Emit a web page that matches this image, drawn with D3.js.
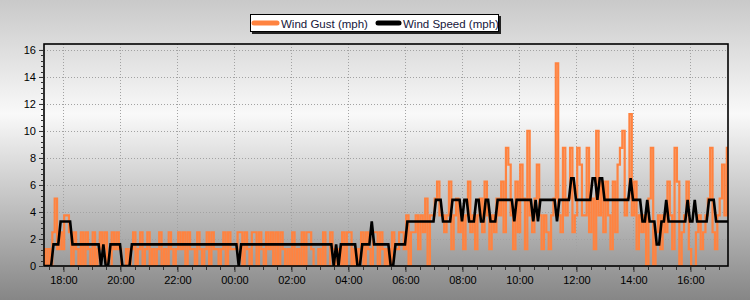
<!DOCTYPE html>
<html><head><meta charset="utf-8">
<script src="https://cdn.jsdelivr.net/npm/d3@7"></script>
<style>html,body{margin:0;padding:0;background:#fff;}svg{display:block;}</style>
</head><body><svg id="c" width="750" height="300"></svg>
<script>
// ---- data ----
const startTime = "2000-01-01T17:19:00";
const stepMinutes = 5;
const seriesNames = ["Wind Gust (mph)", "Wind Speed (mph)"];
const xTickLabels = ["18:00","20:00","22:00","00:00","02:00","04:00","06:00","08:00","10:00","12:00","14:00","16:00"];
const yTickLabels = [0,2,4,6,8,10,12,14,16];
const windGust = [
 1.25,0,1.25,0,2.5,5,1.25,2.5,1.25,3.75,3.75,2.5,
 0,2.5,1.25,0,2.5,0,2.5,1.25,0,2.5,0,1.25,
 2.5,1.25,2.5,0,0,2.5,1.25,2.5,1.25,0,0,1.25,
 0,1.25,2.5,0,1.25,2.5,0,1.25,2.5,0,1.25,0,
 1.25,2.5,0,1.25,0,2.5,1.25,0,1.25,2.5,1.25,2.5,
 0,2.5,1.25,1.25,0,2.5,1.25,0,1.25,2.5,0,2.5,
 1.25,1.25,0,1.25,2.5,0,2.5,1.25,1.25,1.25,2.5,2.5,
 0,2.5,1.25,0,2.5,2.5,0,2.5,1.25,0,2.5,1.25,
 2.5,0,2.5,0,2.5,1.25,0,1.25,0,2.5,0,1.25,
 0,2.5,0,2.5,2.5,1.25,0,0,1.25,0,2.5,0,
 0,2.5,1.25,0,1.25,0,2.5,0,2.5,2.5,0,1.25,
 0,1.25,2.5,0,2.5,1.25,0,2.5,2.5,0,2.5,1.25,
 0,1.25,0,2.5,1.25,1.25,2.5,2.5,1.25,3.75,0,2.5,
 2.5,3.75,1.25,3.75,2.5,5,0,3.75,3.75,5,6.25,3.75,
 3.75,2.5,3.75,6.25,1.25,3.75,5,2.5,3.75,1.25,3.75,6.25,
 2.5,3.75,1.25,3.75,5,2.5,6.25,3.75,1.25,3.75,2.5,5,
 3.75,6.25,2.5,8.75,7.5,3.75,1.25,6.25,2.5,7.5,5,1.25,
 10,3.75,2.5,5,7.5,3.75,1.25,3.75,2.5,1.25,3.75,5,
 15,3.75,2.5,8.75,3.75,5,8.75,2.5,3.75,8.75,7.5,3.75,
 3.75,8.75,2.5,5,1.25,10,3.75,6.25,2.5,6.25,3.75,1.25,
 6.25,2.5,7.5,8.75,10,3.75,5,11.25,3.75,6.25,1.25,3.75,
 2.5,3.75,0,5,8.75,0,2.5,3.75,1.25,3.75,2.5,6.25,
 3.75,1.25,8.75,6.25,0,2.5,3.75,6.25,1.25,0,0,2.5,
 3.75,1.25,2.5,3.75,5,8.75,2.5,1.25,3.75,5,7.5,3.75,8.75
];
const windSpeed = [
 0,0,0,0,1.6,1.6,1.6,3.3,3.3,3.3,3.3,3.3,
 1.6,1.6,1.6,1.6,1.6,1.6,1.6,1.6,1.6,1.6,1.6,1.6,
 0,1.6,0,0,1.6,1.6,1.6,1.6,1.6,0,0,0,
 0,1.6,1.6,1.6,1.6,1.6,1.6,1.6,1.6,1.6,1.6,1.6,
 1.6,1.6,1.6,1.6,1.6,1.6,1.6,1.6,1.6,1.6,1.6,1.6,
 1.6,1.6,1.6,1.6,1.6,1.6,1.6,1.6,1.6,1.6,1.6,1.6,
 1.6,1.6,1.6,1.6,1.6,1.6,1.6,1.6,1.6,1.6,0,1.6,
 1.6,1.6,1.6,1.6,1.6,1.6,1.6,1.6,1.6,1.6,1.6,1.6,
 1.6,1.6,1.6,1.6,1.6,1.6,1.6,1.6,1.6,1.6,1.6,1.6,
 1.6,1.6,1.6,1.6,1.6,1.6,1.6,1.6,1.6,1.6,1.6,1.6,
 1.6,1.6,0,1.6,0,1.6,1.6,1.6,1.6,1.6,1.6,1.6,
 0,0,1.6,1.6,1.6,1.6,3.3,1.6,1.6,1.6,1.6,1.6,
 1.6,1.6,0,0,1.6,1.6,1.6,1.6,1.6,3.3,3.3,3.3,
 3.3,3.3,3.3,3.3,3.3,3.3,3.3,3.3,3.3,4.9,4.9,4.9,
 3.3,3.3,3.3,3.3,4.9,4.9,4.9,4.9,3.3,4.9,4.9,3.3,
 3.3,3.3,4.9,4.9,3.3,3.3,4.9,4.9,3.3,3.3,3.3,4.9,
 4.9,4.9,4.9,4.9,4.9,4.9,3.3,4.9,4.9,4.9,4.9,4.9,
 4.9,4.9,3.3,4.9,3.3,4.9,4.9,4.9,4.9,4.9,4.9,4.9,
 3.3,4.9,4.9,4.9,4.9,4.9,6.5,6.5,4.9,4.9,4.9,4.9,
 4.9,4.9,4.9,6.5,6.5,4.9,6.5,6.5,4.9,4.9,4.9,4.9,
 4.9,4.9,4.9,4.9,4.9,4.9,4.9,6.5,4.9,4.9,4.9,4.9,
 3.3,3.3,4.9,3.3,3.3,3.3,1.6,1.6,3.3,3.3,4.9,3.3,
 3.3,3.3,3.3,3.3,3.3,3.3,3.3,4.9,3.3,3.3,4.9,3.3,
 3.3,3.3,3.3,3.3,4.9,4.9,4.9,3.3,3.3,3.3,3.3,3.3,3.3
];
const seriesColors = ["#ff8340", "#000000"];

// ---- build ----
const t0 = new Date(startTime);
const times = windGust.map((_, i) => new Date(t0.getTime() + i * stepMinutes * 60000));
const tEnd = new Date(t0.getTime() + 24 * 3600000);

const svg = d3.select("#c");
const L = 44, R = 728, T = 44, B = 266;

const defs = svg.append("defs");
const g = defs.append("linearGradient").attr("id","bg").attr("x1",0).attr("y1",0).attr("x2",0).attr("y2",1);
g.append("stop").attr("offset","0%").attr("stop-color","#c9c9c9");
g.append("stop").attr("offset","38%").attr("stop-color","#f9f9f9");
g.append("stop").attr("offset","100%").attr("stop-color","#868686");
svg.append("rect").attr("width",750).attr("height",300).attr("fill","url(#bg)");
defs.append("clipPath").attr("id","plot").append("rect").attr("x",44).attr("y",44).attr("width",684).attr("height",222);

const x = d3.scaleTime().domain([t0, tEnd]).range([L, R]);
const y = d3.scaleLinear().domain([0, 16.44]).range([B, T]);

// grid
const majorTimes = xTickLabels.map((s, i) => new Date(t0.getTime() + (41 + i * 120) * 60000));
svg.append("g").selectAll("line").data(majorTimes).join("line")
  .attr("x1", d => Math.round(x(d)) + 0.5).attr("x2", d => Math.round(x(d)) + 0.5)
  .attr("y1", T).attr("y2", B)
  .attr("stroke", "#a2a2a2").attr("stroke-dasharray", "1,2");
svg.append("g").selectAll("line").data(yTickLabels.filter(v => v > 0)).join("line")
  .attr("x1", L).attr("x2", R)
  .attr("y1", d => Math.round(y(d)) + 0.5).attr("y2", d => Math.round(y(d)) + 0.5)
  .attr("stroke", "#a2a2a2").attr("stroke-dasharray", "1,2");

// series
const gustLine = d3.line().x((d, i) => x(times[i])).y(d => y(d)).curve(d3.curveStep);
const speedLine = d3.line().x((d, i) => x(times[i])).y(d => y(d));
const plotG = svg.append("g").attr("clip-path", "url(#plot)");
plotG.append("path").datum(windGust).attr("d", gustLine)
  .attr("fill", "none").attr("stroke", seriesColors[0]).attr("stroke-width", 2.2).attr("stroke-linejoin", "miter");
plotG.append("path").datum(windSpeed).attr("d", speedLine)
  .attr("fill", "none").attr("stroke", seriesColors[1]).attr("stroke-width", 2.6).attr("stroke-linejoin", "miter");

// frame
svg.append("rect").attr("x", L).attr("y", T).attr("width", R - L).attr("height", B - T)
  .attr("fill", "none").attr("stroke", "#000").attr("stroke-width", 1.6);

// y axis
const yAxis = d3.axisLeft(y).tickValues(yTickLabels).tickSize(4).tickPadding(3).tickFormat(d3.format("d"));
const ya = svg.append("g").attr("transform", `translate(${L - 1},0)`).call(yAxis);
const yMinor = d3.range(0, 16.01, 0.4);
svg.append("g").selectAll("line").data(yMinor).join("line")
  .attr("x1", L - 3).attr("x2", L - 1)
  .attr("y1", d => Math.round(y(d)) + 0.5).attr("y2", d => Math.round(y(d)) + 0.5)
  .attr("stroke", "#333");

// x axis
const xAxis = d3.axisBottom(x).tickValues(majorTimes).tickSize(5).tickPadding(4)
  .tickFormat((d, i) => xTickLabels[i]);
const xa = svg.append("g").attr("transform", `translate(0,${B + 1})`).call(xAxis);
const minorTimes = d3.range(0, 48).map(k => new Date(t0.getTime() + (11 + k * 30) * 60000)).filter(d => d <= tEnd);
svg.append("g").selectAll("line").data(minorTimes).join("line")
  .attr("x1", d => Math.round(x(d)) + 0.5).attr("x2", d => Math.round(x(d)) + 0.5)
  .attr("y1", B + 1).attr("y2", B + 4).attr("stroke", "#333");

[ya, xa].forEach(a => {
  a.select(".domain").remove();
  a.selectAll(".tick line").attr("stroke", "#333");
  a.selectAll("text").attr("font-family", "'Liberation Sans', Arial, sans-serif").attr("font-size", 11).attr("fill", "#000");
});

// legend
const lg = svg.append("g");
lg.append("rect").attr("x", 252).attr("y", 16).attr("width", 249).attr("height", 18).attr("fill", "#222");
lg.append("rect").attr("x", 250.5).attr("y", 14.5).attr("width", 248).attr("height", 17).attr("fill", "#fff").attr("stroke", "#000");
const items = [{x1: 254, x2: 277, tx: 281}, {x1: 378, x2: 399, tx: 403}];
items.forEach((it, i) => {
  lg.append("line").attr("x1", it.x1).attr("x2", it.x2).attr("y1", 23).attr("y2", 23)
    .attr("stroke", seriesColors[i]).attr("stroke-width", 5).attr("stroke-linecap", "round");
  lg.append("text").attr("x", it.tx).attr("y", 27.5).text(seriesNames[i])
    .attr("font-family", "'Liberation Sans', Arial, sans-serif").attr("font-size", 11.5).attr("fill", "#15153a");
});
</script></body></html>
